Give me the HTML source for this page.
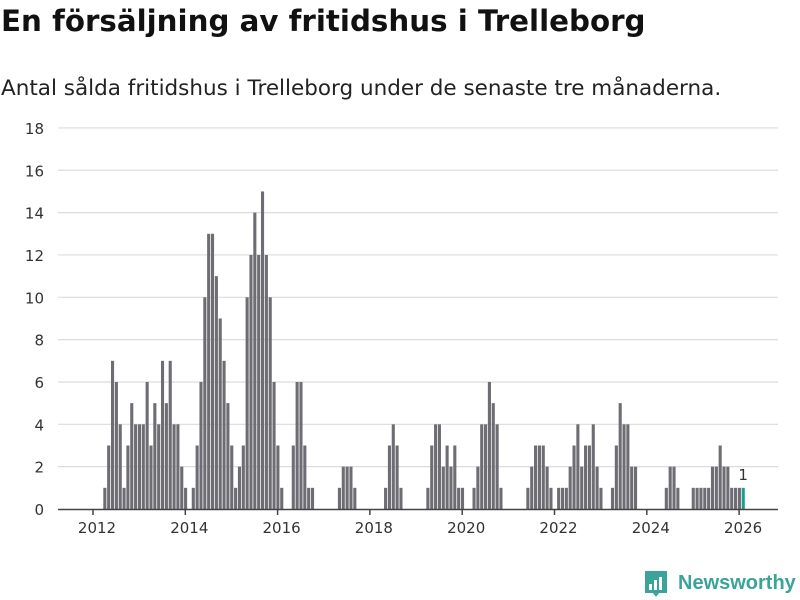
<!DOCTYPE html>
<html><head><meta charset="utf-8"><style>
body{margin:0;background:#fff;font-family:"DejaVu Sans","Liberation Sans",sans-serif;}
#wrap{position:relative;width:800px;height:600px;overflow:hidden;}
h1{position:absolute;left:1px;top:4px;margin:0;font-size:29.3px;font-weight:bold;color:#111;white-space:nowrap;}
p{position:absolute;left:1px;top:76px;margin:0;font-size:21.5px;color:#222;white-space:nowrap;}
</style></head><body>
<div id="wrap">
<h1>En försäljning av fritidshus i Trelleborg</h1>
<p>Antal sålda fritidshus i Trelleborg under de senaste tre månaderna.</p>
<svg id="chart" width="800" height="600" style="position:absolute;left:0;top:0"></svg>
</div>
<script>
const startYear = 2012;
const yTicks = [0,2,4,6,8,10,12,14,16,18];
const xTickYears = [2012,2014,2016,2018,2020,2022,2024,2026];
const barIndices = [2,3,4,5,6,7,8,9,10,11,12,13,14,15,16,17,18,19,20,21,22,23,25,26,27,28,29,30,31,32,33,34,35,36,37,38,39,40,41,42,43,44,45,46,47,48,51,52,53,54,55,56,63,64,65,66,67,75,76,77,78,79,86,87,88,89,90,91,92,93,94,95,98,99,100,101,102,103,104,105,112,113,114,115,116,117,118,120,121,122,123,124,125,126,127,128,129,130,131,134,135,136,137,138,139,140,148,149,150,151,155,156,157,158,159,160,161,162,163,164,165,166,167,168];
const barValues = [1,3,7,6,4,1,3,5,4,4,4,6,3,5,4,7,5,7,4,4,2,1,1,3,6,10,13,13,11,9,7,5,3,1,2,3,10,12,14,12,15,12,10,6,3,1,3,6,6,3,1,1,1,2,2,2,1,1,3,4,3,1,1,3,4,4,2,3,2,3,1,1,1,2,4,4,6,5,4,1,1,2,3,3,3,2,1,1,1,1,2,3,4,2,3,3,4,2,1,1,3,5,4,4,2,2,1,2,2,1,1,1,1,1,1,2,2,3,2,2,1,1,1,1];
const lastLabel = "1";

const svg = document.getElementById('chart');
const NS = 'http://www.w3.org/2000/svg';
const x0 = 93, perMonth = 46.15/12, yZero = 509, perUnit = 21.17;
const xScale = m => x0 + m*perMonth;
const yScale = v => yZero - v*perUnit;
function mk(tag, attrs){const e=document.createElementNS(NS,tag);for(const k in attrs)e.setAttribute(k,attrs[k]);svg.appendChild(e);return e;}

yTicks.forEach(t=>{
  if(t>0){const g=mk('line',{x1:58,x2:778,y1:yScale(t),y2:yScale(t),stroke:'#dcdcdc','stroke-width':1.2});
  
  }
  const l=mk('text',{x:44,y:yScale(t)+6,'text-anchor':'end','font-size':15,fill:'#333'});
  l.textContent=t;
  
  
});

barIndices.forEach((m,i)=>{
  const v=barValues[i];
  const last = i===barIndices.length-1;
  const r=mk('rect',{x:xScale(m)+2.6,y:yScale(v),width:3.1,height:v*perUnit,fill:last?'#1a9e8f':'#6e6d73'});
  
  
  if(last){
    const t=mk('text',{x:xScale(m)+4,y:yScale(v)-8,'text-anchor':'middle','font-size':15,fill:'#333'});
    t.textContent=lastLabel;
    
    
  }
});

const ax=mk('line',{x1:58,x2:778,y1:yZero+0.5,y2:yZero+0.5,stroke:'#444','stroke-width':1.5});


xTickYears.forEach(y=>{
  const x=xScale((y-startYear)*12);
  const tk=mk('line',{x1:x,x2:x,y1:yZero,y2:yZero+6,stroke:'#444','stroke-width':1.5});
  
  
  const l=mk('text',{x:x+4,y:yZero+24,'text-anchor':'middle','font-size':15,fill:'#333'});
  l.textContent=y;
  
  
});

const logo=mk('g',{});


const ic=document.createElementNS(NS,'path');
ic.setAttribute('d','M645 571 h22 v22 h-8 l-3 4 l-3 -4 h-8 z');
ic.setAttribute('fill','#3aa39a');
logo.appendChild(ic);
[[649,584,3,6],[654,580,3,10],[659,577,3,13]].forEach(b=>{const r=document.createElementNS(NS,'rect');r.setAttribute('x',b[0]);r.setAttribute('y',b[1]);r.setAttribute('width',b[2]);r.setAttribute('height',b[3]);r.setAttribute('fill','#fff');logo.appendChild(r);});
const lt=document.createElementNS(NS,'text');
lt.setAttribute('x',678);lt.setAttribute('y',589);lt.setAttribute('font-size',20);lt.setAttribute('font-weight','bold');lt.setAttribute('fill','#3aa39a');
lt.setAttribute('font-family','Liberation Sans, sans-serif');
lt.textContent='Newsworthy';
logo.appendChild(lt);
</script>
</body></html>
